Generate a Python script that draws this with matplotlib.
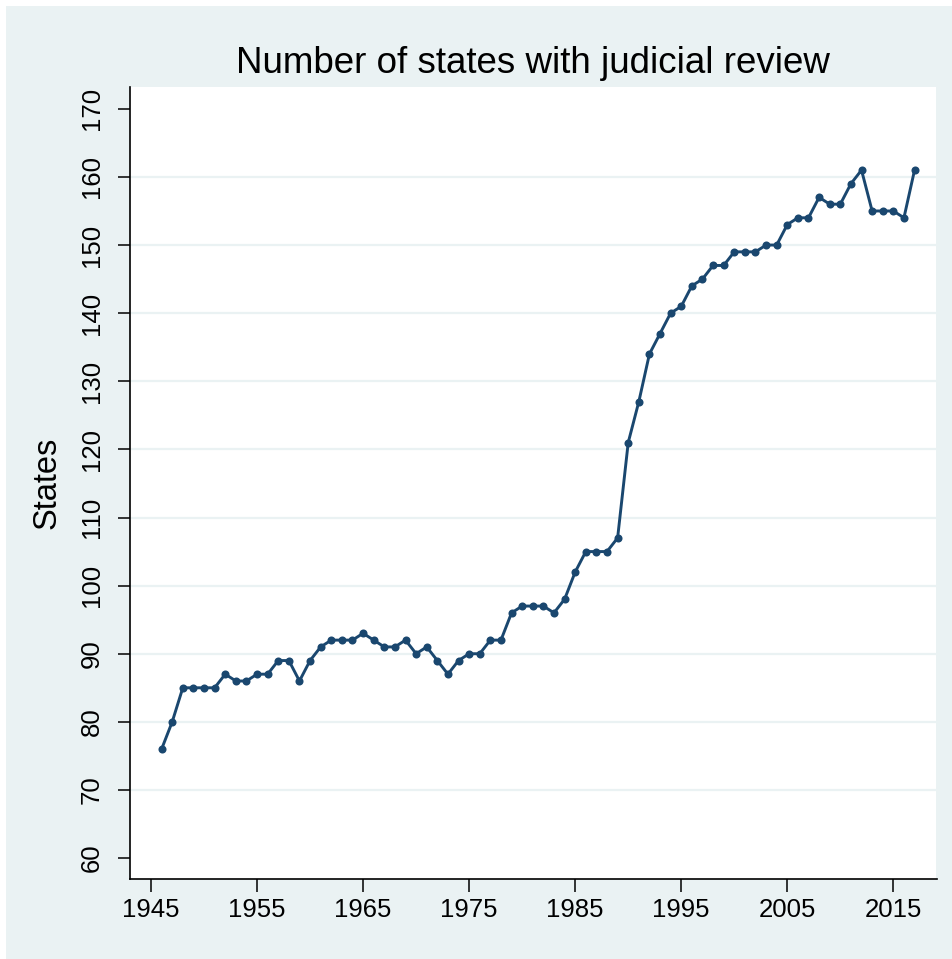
#!/usr/bin/env python
"""Number of states with judicial review, 1946-2017 (Stata s2color look)."""

import matplotlib
matplotlib.use("Agg")
import matplotlib.pyplot as plt
from matplotlib.patches import Rectangle

plt.rcParams['font.family'] = ['Liberation Sans', 'DejaVu Sans']

years = list(range(1946, 2018))
states = [
    76, 80, 85, 85, 85, 85, 87, 86, 86, 87,      # 1946-1955
    87, 89, 89, 86, 89, 91, 92, 92, 92, 93,      # 1956-1965
    92, 91, 91, 92, 90, 91, 89, 87, 89, 90,      # 1966-1975
    90, 92, 92, 96, 97, 97, 97, 96, 98, 102,     # 1976-1985
    105, 105, 105, 107, 121, 127, 134, 137, 140, 141,  # 1986-1995
    144, 145, 147, 147, 149, 149, 149, 150, 150, 153,  # 1996-2005
    154, 154, 157, 156, 156, 159, 161, 155, 155, 155,  # 2006-2015
    154, 161,                                    # 2016-2017
]
x_ticks = list(range(1945, 2016, 10))
y_ticks = list(range(60, 171, 10))

BG = "#EAF2F3"
NAVY = "#1A476F"

W, H = 953, 959
fig = plt.figure(figsize=(W / 100, H / 100), dpi=100, facecolor="white")
# light bluish graph region, with a thin white strip at top and left
fig.add_artist(Rectangle((6 / W, 0), 1 - 6 / W + 0.01, (H - 6) / H,
                         transform=fig.transFigure, facecolor=BG,
                         edgecolor="none", zorder=-10))

ax = fig.add_axes([130 / W, (H - 879) / H, (936.5 - 130) / W, (879 - 87) / H])
ax.set_facecolor("white")

ax.plot(years, states, color=NAVY, lw=2.1, marker="o", markersize=5.8,
        markeredgewidth=0, zorder=3)

ax.set_xlim(1943.02, 2019.07)
ax.set_ylim(56.93, 173.2)
ax.set_xticks(x_ticks)
ax.set_yticks(y_ticks)
ax.set_yticklabels([str(v) for v in y_ticks], rotation=90, va="center")

ax.tick_params(axis="both", length=9, width=1.1, color="black",
               labelsize=18.5)
ax.tick_params(axis="x", pad=5)
ax.tick_params(axis="y", pad=10)

ax.grid(axis="y", color=BG, lw=1.6, zorder=0)
ax.set_axisbelow(True)
for val, line in zip(y_ticks, ax.get_ygridlines()):
    if val in (60, 170):
        line.set_visible(False)

for side in ("top", "right"):
    ax.spines[side].set_visible(False)
for side in ("left", "bottom"):
    ax.spines[side].set_linewidth(1.2)

ax.set_ylabel("States", fontsize=23.5, labelpad=12)
ax.set_title("Number of states with judicial review", fontsize=26.5, pad=10)

fig.savefig("out.png", dpi=100, facecolor=fig.get_facecolor())
